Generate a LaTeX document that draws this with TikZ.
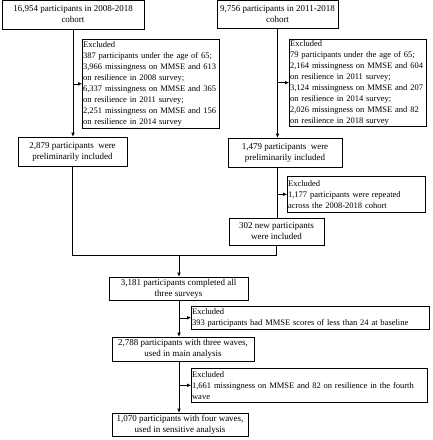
\documentclass[tikz,border=0pt]{standalone}
\usepackage{fontspec}
\setmainfont{Liberation Serif}
\usepackage{tikz}
\usetikzlibrary{arrows.meta}
\usetikzlibrary{positioning}
\tikzstyle{stage}=[draw,rectangle,align=center,inner sep=1pt,line width=0.6pt,font=\fontsize{9}{11}\selectfont]
\tikzstyle{excl}=[draw,rectangle,align=left,anchor=north west,inner xsep=0.8pt,inner ysep=1pt,line width=0.6pt,font=\fontsize{8.5}{11}\selectfont]
\tikzstyle{flow}=[draw,line width=0.6pt,-{Latex[length=4pt,width=3.6pt]}]
\tikzstyle{link}=[draw,line width=0.6pt]

\begin{document}
\begin{tikzpicture}[x=1pt,y=-1pt]
	\useasboundingbox (0,0) rectangle (432,440);

% % % 2008-2018 cohort
	\node[stage,minimum width=142pt,minimum height=29pt] (c1) at (73,14.5)
	{16,954 participants in 2008-2018\\cohort};
	\node[excl,text width=135.4pt,minimum height=89pt] (ex1) at (82,39)
	{Excluded\\387 participants under the age of 65;\\3,966 missingness on MMSE and 613\\on resilience in 2008 survey;\\6,337 missingness on MMSE and 365\\on resilience in 2011 survey;\\2,251 missingness on MMSE and 156\\on resilience in 2014 survey};
	\node[stage,minimum width=109pt,minimum height=29pt] (in1) at (72.5,151.5)
	{2,879 participants\ \ were\\preliminarily included};

% % % 2011-2018 cohort
	\node[stage,minimum width=121pt,minimum height=28pt] (c2) at (277.5,14)
	{9,756 participants in 2011-2018\\cohort};
	\node[excl,text width=135.4pt,minimum height=84pt] (ex2) at (289,39)
	{Excluded\\79 participants under the age of 65;\\2,164 missingness on MMSE and 604\\on resilience in 2011 survey;\\3,124 missingness on MMSE and 207\\on resilience in 2014 survey;\\2,026 missingness on MMSE and 82\\on resilience in 2018 survey};
	\node[stage,minimum width=114pt,minimum height=29pt] (in2) at (285,152.5)
	{1,479 participants\ \ were\\preliminarily included};
	\node[excl,text width=136.4pt,minimum height=36pt] (ex3) at (287,176)
	{Excluded\\1,177 participants were repeated\\across the 2008-2018 cohort};
	\node[stage,minimum width=95pt,minimum height=27pt] (new) at (276.5,231.5)
	{302 new participants\\were included};

% % % Combined
	\node[stage,minimum width=139pt,minimum height=23pt] (all3) at (178.5,288.5)
	{3,181 participants completed all\\three surveys};
	\node[excl,text width=236.4pt,minimum height=23pt] (ex4) at (191,306)
	{Excluded\\393 participants had MMSE scores of less than 24 at baseline};
	\node[stage,minimum width=142pt,minimum height=24pt] (w3) at (183,349)
	{2,788 participants with three waves,\\used in main analysis};
	\node[excl,text width=234.4pt,minimum height=34pt] (ex5) at (191,368)
	{Excluded\\1,661 missingness on MMSE and 82 on resilience in the fourth\\wave};
	\node[stage,minimum width=136pt,minimum height=23pt] (w4) at (180,424.5)
	{1,070 participants with four waves,\\used in sensitive analysis};

	\coordinate (mrg) at (179,255);

	\path[flow] (c1.south) -- (c1.south |- in1.north);
	\path[flow] (c1.south |- ex1.west) -- (ex1.west);

	\path[flow] (c2.south) -- (c2.south |- in2.north);
	\path[flow] (c2.south |- ex2.west) -- (ex2.west);

	\path[link] (c2.south |- in2.south) -- (c2.south |- new.north);
	\path[flow] (c2.south |- ex3.west) -- (ex3.west);

	\path[link] (in1.south) |- (new.south |- mrg) -- (new.south);
	\path[flow] (mrg) -- (mrg |- all3.north);

	\path[flow] (mrg |- all3.south) -- (mrg |- w3.north);
	\path[flow] (mrg |- ex4.west) -- (ex4.west);

	\path[flow] (mrg |- w3.south) -- (mrg |- w4.north);
	\path[flow] (mrg |- ex5.west) -- (ex5.west);

\end{tikzpicture}
\end{document}
